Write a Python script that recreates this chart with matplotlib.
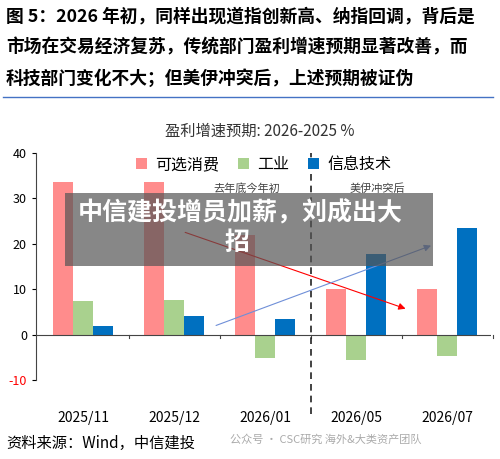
import matplotlib.pyplot as plt
import numpy as np
from matplotlib.patches import Rectangle

plt.rcParams['font.family'] = ['Noto Sans CJK SC', 'DejaVu Sans']

periods = ['2025/11', '2025/12', '2026/01', '2026/05', '2026/07']
consumer = [33.5, 33.6, 22.0, 10.0, 10.1]
industry = [7.5, 7.7, -5.2, -5.6, -4.7]
tech = [1.8, 4.0, 3.4, 17.8, 23.5]
series_names = ['可选消费', '工业', '信息技术']
colors = ['#ff8c8c', '#a9d18e', '#0070c0']

header = ['图 5：2026 年初，同样出现道指创新高、纳指回调，背后是',
          '市场在交易经济复苏，传统部门盈利增速预期显著改善，而',
          '科技部门变化不大；但美伊冲突后，上述预期被证伪']

fig = plt.figure(figsize=(5, 4.59), dpi=100)
for i, line in enumerate(header):
    fig.text(0.012, 1 - (16 + 31 * i) / 459, line, fontsize=12.8, fontweight='bold',
             va='center', ha='left')
fig.add_artist(plt.Line2D([0.005, 0.985], [1 - 97 / 459] * 2, color='#4472c4', lw=1))

ax = fig.add_axes([0.072, 0.172, 0.91, 0.495])
x = np.arange(len(periods))
w = 0.22
for k, (vals, name, c) in enumerate(zip([consumer, industry, tech], series_names, colors)):
    ax.bar(x + (k - 1) * w, vals, w, color=c, label=name)
ax.set_xlim(-0.52, 4.48)
ax.set_ylim(-10, 40)
ax.set_yticks([-10, 0, 10, 20, 30, 40])
ax.set_yticklabels(['-10', '0', '10', '20', '30', '40'], fontsize=9)
ax.get_yticklabels()[0].set_color('red')
ax.set_xticks(x)
ax.set_xticklabels(periods, fontsize=10)
ax.tick_params(axis='x', length=0, pad=22)
ax.tick_params(axis='y', length=3)
for b in np.arange(0.5, 5, 1):
    ax.plot([b, b], [0, -0.8], color='#444', lw=0.8, clip_on=False)
ax.axhline(0, color='#444', lw=0.8)
for s in ['top', 'right', 'bottom']:
    ax.spines[s].set_visible(False)
ax.spines['left'].set_color('#444')
ax.axvline(2.5, color='#222', ls=(0, (4, 3)), lw=1.2, ymin=-0.15, clip_on=False)
ax.annotate('', xy=(3.57, 5.5), xytext=(1.09, 22.7),
            arrowprops=dict(arrowstyle='-|>', color='red', lw=0.8))
ax.annotate('', xy=(3.85, 19.8), xytext=(1.43, 1.8),
            arrowprops=dict(arrowstyle='-|>', color='#6f8fd8', lw=0.8))
ax.text(1.8, 31.5, '去年底今年初', fontsize=8, ha='center', color='#444')
ax.text(3.23, 31.5, '美伊冲突后', fontsize=8, ha='center', color='#444')
ax.legend(loc='upper center', bbox_to_anchor=(0.5, 1.05), ncol=3, frameon=False,
          fontsize=11.5, handlelength=0.7, handleheight=0.7, handletextpad=0.5,
          columnspacing=1.2)
fig.text(0.52, 1 - 131 / 459, '盈利增速预期: 2026-2025 %', fontsize=11, ha='center',
         va='center', color='#333')

fig.text(0.012, 1 - 443 / 459, '资料来源：Wind，中信建投', fontsize=11, style='italic',
         va='center')
fig.text(0.46, 1 - 440 / 459, '公众号 · CSC研究 海外&大类资产团队', fontsize=8,
         color='#aaa', va='center')

fig.add_artist(Rectangle((65 / 500, 1 - 266 / 459), 368 / 500, 73 / 459,
                         transform=fig.transFigure, color='#555', alpha=0.7, lw=0))
fig.text(0.48, 1 - 213 / 459, '中信建投增员加薪，刘成出大', fontsize=18, fontweight='bold',
         color='white', ha='center', va='center')
fig.text(0.475, 1 - 243 / 459, '招', fontsize=18, fontweight='bold',
         color='white', ha='center', va='center')

fig.savefig('out.png', dpi=100)
